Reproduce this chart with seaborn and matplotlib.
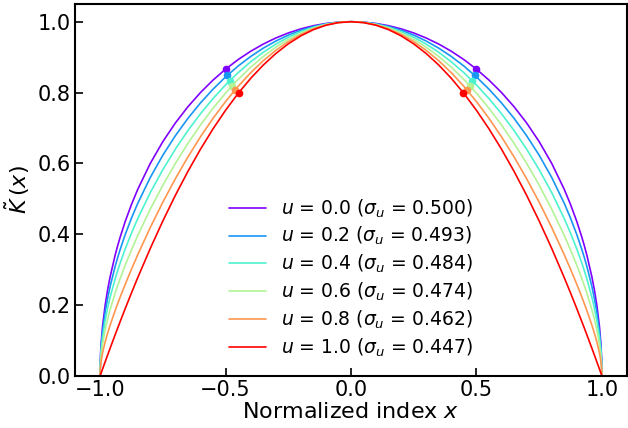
import numpy as np
import pandas as pd
import matplotlib
matplotlib.use("Agg")
import matplotlib.pyplot as plt
import seaborn as sns

# kernel values, right half (x >= 0); the curves are symmetric
x_half = [0.0, 0.05, 0.1, 0.15, 0.2, 0.25, 0.3, 0.35, 0.4, 0.45, 0.5, 0.55, 0.6, 0.65,
          0.7, 0.75, 0.8, 0.85, 0.875, 0.9, 0.92, 0.93, 0.94, 0.96, 0.97, 0.98, 0.99,
          0.995, 0.997, 0.999, 1.0]
k_u00 = [1.0, 0.99875, 0.99499, 0.98869, 0.97980, 0.96825, 0.95394, 0.93675, 0.91652,
         0.89303, 0.86603, 0.83516, 0.80000, 0.75993, 0.71414, 0.66144, 0.60000, 0.52678,
         0.48412, 0.43589, 0.39192, 0.36756, 0.34117, 0.28000, 0.24310, 0.19900, 0.14107,
         0.09987, 0.07740, 0.04471, 0.0]
k_u02 = [1.0, 0.99850, 0.99400, 0.98647, 0.97587, 0.96218, 0.94532, 0.92520, 0.90174,
         0.87476, 0.84410, 0.80950, 0.77066, 0.72712, 0.67825, 0.62312, 0.56029, 0.48724,
         0.44552, 0.39902, 0.35721, 0.33426, 0.30956, 0.25288, 0.21904, 0.17887, 0.12649,
         0.08944, 0.06928, 0.04000, 0.0]
k_u04 = [1.0, 0.99825, 0.99300, 0.98423, 0.97193, 0.95607, 0.93662, 0.91351, 0.88671,
         0.85609, 0.82158, 0.78300, 0.74016, 0.69274, 0.64034, 0.58229, 0.51753, 0.44419,
         0.40323, 0.35838, 0.31874, 0.29726, 0.27433, 0.22248, 0.19198, 0.15617, 0.11000,
         0.07762, 0.06007, 0.03466, 0.0]
k_u06 = [1.0, 0.99800, 0.99201, 0.98200, 0.96797, 0.94992, 0.92783, 0.90167, 0.87142,
         0.83702, 0.79844, 0.75558, 0.70835, 0.65658, 0.60005, 0.53837, 0.47092, 0.39649,
         0.35596, 0.31251, 0.27495, 0.25494, 0.23385, 0.18721, 0.16042, 0.12954, 0.09054,
         0.06363, 0.04917, 0.02832, 0.0]
k_u08 = [1.0, 0.99775, 0.99100, 0.97975, 0.96400, 0.94373, 0.91896, 0.88967, 0.85586,
         0.81750, 0.77460, 0.72712, 0.67504, 0.61830, 0.55684, 0.49054, 0.41914, 0.34221,
         0.30136, 0.25861, 0.22270, 0.20401, 0.18471, 0.14352, 0.12089, 0.09578, 0.06555,
         0.04555, 0.03503, 0.02008, 0.0]
k_u10 = [1.0, 0.99750, 0.99000, 0.97750, 0.96000, 0.93750, 0.91000, 0.87750, 0.84000,
         0.79750, 0.75000, 0.69750, 0.64000, 0.57750, 0.51000, 0.43750, 0.36000, 0.27750,
         0.23438, 0.19000, 0.15360, 0.13510, 0.11640, 0.07840, 0.05910, 0.03960, 0.01990,
         0.00998, 0.00600, 0.00200, 0.0]

u_vals = [0.0, 0.2, 0.4, 0.6, 0.8, 1.0]
sigma_u = [0.500, 0.493, 0.484, 0.474, 0.462, 0.447]
k_at_sigma = [0.8660, 0.8487, 0.8331, 0.8190, 0.8076, 0.8002]

curves = [k_u00, k_u02, k_u04, k_u06, k_u08, k_u10]
labels = [rf"$u$ = {u:.1f} ($\sigma_u$ = {s:.3f})" for u, s in zip(u_vals, sigma_u)]

rows = []
for lab, k in zip(labels, curves):
    for xv, kv in zip(x_half, k):
        rows.append((lab, xv, kv))
        if xv > 0:
            rows.append((lab, -xv, kv))
df = pd.DataFrame(rows, columns=["label", "x", "K"])

pts = pd.DataFrame({
    "label": labels * 2,
    "x": sigma_u + [-s for s in sigma_u],
    "K": k_at_sigma * 2,
})

sns.set_style("ticks", {"axes.edgecolor": "black", "xtick.color": "black",
                        "ytick.color": "black", "text.color": "black",
                        "axes.labelcolor": "black"})
plt.rcParams['font.family'] = ['DejaVu Sans']
colors = [plt.cm.rainbow(v) for v in np.linspace(0, 1, 6)]

fig = plt.figure(figsize=(6.28, 4.28), dpi=100)
ax = fig.add_axes([75 / 628, 52 / 428, 552 / 628, 372 / 428])

sns.lineplot(data=df, x="x", y="K", hue="label", hue_order=labels, palette=colors,
             estimator=None, sort=True, lw=1.2, ax=ax)
for lab, c in zip(labels, colors):
    sub = pts[pts["label"] == lab]
    ax.plot(sub["x"], sub["K"], "o", color=c, ms=4.5, zorder=3)

ax.set_xlim(-1.1, 1.1)
ax.set_ylim(0, 1.05)
ax.set_xticks([-1.0, -0.5, 0.0, 0.5, 1.0])
ax.set_yticks([0.0, 0.2, 0.4, 0.6, 0.8, 1.0])
ax.tick_params(direction="in", length=5.5, width=1.2, labelsize=15, pad=3)
for sp in ax.spines.values():
    sp.set_linewidth(1.5)
ax.set_xlabel("Normalized index $x$", fontsize=16, labelpad=1)
ax.set_ylabel(r"$\tilde{K}\,(x)$", fontsize=16, labelpad=4)

ax.legend(loc="lower center", bbox_to_anchor=(0.5, 0.0), frameon=False, fontsize=13.5,
          handlelength=2.0, labelspacing=0.3, handletextpad=0.8)

fig.savefig("out.png", dpi=100)
